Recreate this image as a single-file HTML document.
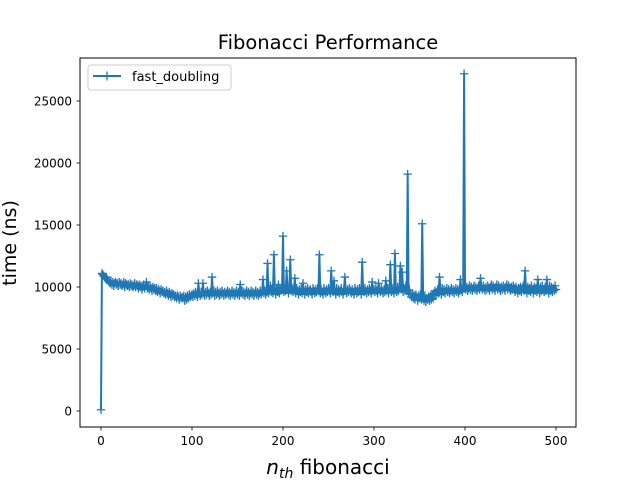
<!DOCTYPE html>
<html><head><meta charset="utf-8"><style>
body{margin:0;background:#fff;}
svg{display:block;font-family:"DejaVu Sans","Liberation Sans",sans-serif;}
</style></head><body>
<svg id="chart" width="640" height="480" viewBox="0 0 640 480">
<rect x="0" y="0" width="640" height="480" fill="#fff"/>
<text x="328" y="49" font-size="19.5" text-anchor="middle">Fibonacci Performance</text>
<g id="plot"></g>
<g id="xticks"></g>
<g id="yticks"></g>
<rect x="80" y="58" width="496" height="369" fill="none" stroke="#000" stroke-width="1"/>
<text x="328" y="474" font-size="20" text-anchor="middle"><tspan font-style="italic">n</tspan><tspan font-style="italic" font-size="14" dy="4">th</tspan><tspan dy="-4"> fibonacci</tspan></text>
<text transform="translate(16,243) rotate(-90)" font-size="19" text-anchor="middle">time (ns)</text>
<g>
<rect x="88" y="65" width="143" height="25" rx="3" fill="#fff" fill-opacity="0.8" stroke="#ccc"/>
<line x1="93" y1="76" x2="121" y2="76" stroke="#1f77b4" stroke-width="2"/>
<path d="M107 71.5V80.5M102.5 76H111.5" stroke="#1f77b4" stroke-width="1.3"/>
<text x="132" y="81" font-size="13">fast_doubling</text>
</g>
</svg>
<script>
// time values in hundreds of ns, n = 0..500
const timesHundredNs = [
1,111,110,109,108,107,108,106,105,104,
103,105,102,104,101,103,104,102,103,101,
104,102,103,101,102,104,100,103,102,101,
102,100,103,101,102,100,101,103,100,102,
101,99,102,100,101,98,100,102,99,101,
104,99,100,98,101,99,97,100,98,99,
97,99,96,98,97,95,98,96,97,95,
96,94,97,95,93,96,94,92,95,93,
94,92,93,91,93,92,90,93,91,92,
91,93,89,92,90,93,91,94,92,93,
94,92,95,93,96,94,92,103,95,93,
96,94,103,95,93,96,94,97,95,93,
96,94,108,95,97,93,96,94,97,95,
93,96,94,97,95,93,96,94,95,97,
94,96,93,95,97,94,96,93,95,97,
94,96,93,102,95,97,94,96,93,95,
97,94,96,93,95,97,94,96,93,95,
97,94,96,93,95,97,94,96,106,95,
97,94,96,119,95,98,101,96,99,95,
126,97,94,99,96,102,95,98,97,100,
141,96,99,97,113,98,95,100,122,97,
99,96,98,107,95,99,97,94,98,96,
99,95,103,97,94,98,96,99,95,97,
98,96,94,99,97,95,98,96,99,97,
126,95,98,96,94,99,97,95,98,96,
99,97,95,113,98,96,105,97,94,99,
96,98,95,97,99,96,94,98,108,97,
95,98,96,99,97,95,98,96,94,99,
97,95,98,96,99,97,94,120,98,96,
99,97,95,98,96,99,97,95,104,97,
98,96,99,97,95,103,98,96,99,97,
95,98,96,105,97,99,95,98,118,96,
99,97,95,127,98,96,100,97,99,117,
98,112,96,99,97,101,98,191,95,97,
94,92,95,91,93,90,94,92,89,93,
91,94,90,151,92,89,93,88,91,90,
92,89,93,90,94,91,95,97,93,96,
98,95,108,97,94,99,96,98,95,97,
99,96,98,95,97,99,96,98,95,97,
99,96,98,95,97,106,98,96,99,272,
101,98,100,97,99,101,98,100,97,99,
101,98,100,97,99,101,98,107,100,98,
101,99,97,100,98,101,99,97,100,102,
98,101,99,97,100,102,98,101,99,97,
100,98,101,99,97,100,102,98,101,99,
97,100,98,101,99,96,100,98,95,99,
97,100,96,99,101,97,113,98,95,100,
97,99,96,101,98,95,100,97,99,96,
106,98,95,100,97,101,98,96,100,97,
106,98,95,101,97,100,96,99,97,101,
98];
const xTickValues = [0,100,200,300,400,500];
const yTickValues = [0,5000,10000,15000,20000,25000];

const NS = 'http://www.w3.org/2000/svg';
function xScale(v){ return 101 + v * (455/500); }
function yScale(v){ return 411 - v * (310/25000); }
function mk(tag, attrs, parent){ const e=document.createElementNS(NS,tag); for(const k in attrs) e.setAttribute(k,attrs[k]); parent.appendChild(e); return e; }

const plot = document.getElementById('plot');
let d = '';
timesHundredNs.forEach((v,i)=>{ d += (i?'L':'M') + xScale(i).toFixed(2) + ' ' + yScale(v*100).toFixed(2); });
const line = mk('path',{d:d,fill:'none',stroke:'#1f77b4','stroke-width':2,'stroke-linejoin':'round'},plot);


let md = '';
timesHundredNs.forEach((v,i)=>{ const x=xScale(i), y=yScale(v*100); md += `M${(x-4.2).toFixed(2)} ${y.toFixed(2)}H${(x+4.2).toFixed(2)}M${x.toFixed(2)} ${(y-4.2).toFixed(2)}V${(y+4.2).toFixed(2)}`; });
const markers = mk('path',{d:md,fill:'none',stroke:'#1f77b4','stroke-width':1.3},plot);



const xg = document.getElementById('xticks');
xTickValues.forEach(v=>{
  const x = xScale(v);
  const t = mk('line',{x1:x,y1:427,x2:x,y2:430.5,stroke:'#000','stroke-width':0.8},xg);
  
  
  const l = mk('text',{x:x,y:445,'font-size':12,'text-anchor':'middle'},xg);
  l.textContent = v;
  
  
});
const yg = document.getElementById('yticks');
yTickValues.forEach(v=>{
  const y = yScale(v);
  const t = mk('line',{x1:76.5,y1:y,x2:80,y2:y,stroke:'#000','stroke-width':0.8},yg);
  
  
  const l = mk('text',{x:72,y:y+4.5,'font-size':12,'text-anchor':'end'},yg);
  l.textContent = v;
  
  
});
</script>
</body></html>
